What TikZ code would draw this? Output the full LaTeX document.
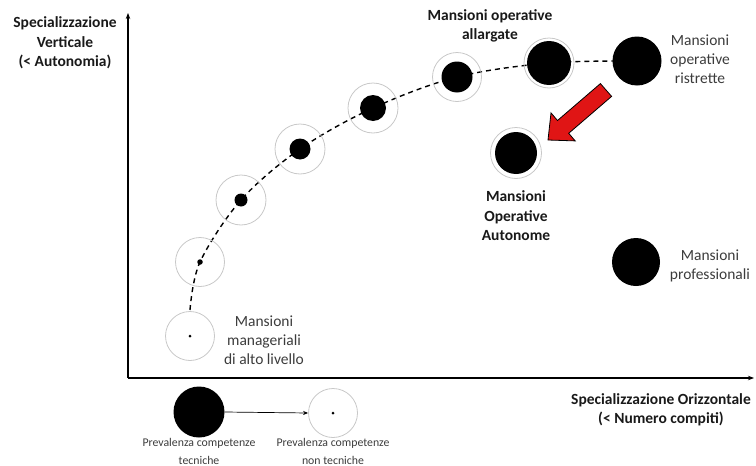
\documentclass[tikz,border=0pt]{standalone}
\usepackage{fontspec}
\setmainfont{Carlito}
\usetikzlibrary{arrows.meta}
\definecolor{ringgray}{HTML}{C8C8C8}
\definecolor{txt}{HTML}{3C3C3C}
\definecolor{arrowred}{HTML}{E01515}
\begin{document}
\begin{tikzpicture}[x=1pt,y=-1pt,
  ring/.style={circle,draw=ringgray,line width=0.8pt,minimum size=#1,inner sep=0pt},
  blob/.style={circle,fill=black,minimum size=#1,inner sep=0pt},
  lbl/.style={align=center,text=txt,font=\fontsize{15.5}{19}\selectfont},
  blbl/.style={align=center,text=black!90,font=\bfseries\fontsize{15.5}{19.5}\selectfont},
  leg/.style={align=center,text=txt,font=\fontsize{11.8}{18}\selectfont},
  axisline/.style={line width=1.2pt,-{Stealth[length=6pt,width=4.5pt]}},
  trail/.style={line width=1.4pt,dash pattern=on 5pt off 4pt}]
\useasboundingbox (0,0) rectangle (756,466);

% axes
\coordinate (o) at (128,378);
\coordinate (ytop) at (128,13);
\coordinate (xend) at (754,378);
\draw[axisline] (o) -- (ytop);
\draw[axisline] (o) -- (xend);

% centres of the job profiles
\coordinate (c1) at (190,336);
\coordinate (c2) at (200,262);
\coordinate (c3) at (241,200);
\coordinate (c4) at (300,149);
\coordinate (c5) at (373,108);
\coordinate (c6) at (457,77);
\coordinate (c7) at (549,63);
\coordinate (c8) at (637,61);
\coordinate (c9) at (516,153);
\coordinate (c10) at (636,262);
\coordinate (start) at (190,310);

% dashed trajectory
\draw[trail] plot[smooth,tension=0.55] coordinates {(start) (c2) (c3) (c4) (c5) (c6) (c7) (c8)};

% job profiles
\node[ring=49pt] (r1) at (c1) {};
\node[blob=3pt] (j1) at (c1) {};
\node[ring=49pt] (r2) at (c2) {};
\node[blob=5.5pt] (j2) at (c2) {};
\node[ring=50pt] (r3) at (c3) {};
\node[blob=13pt] (j3) at (c3) {};
\node[ring=50pt] (r4) at (c4) {};
\node[blob=21pt] (j4) at (c4) {};
\node[ring=50pt] (r5) at (c5) {};
\node[blob=26pt] (j5) at (c5) {};
\node[ring=49pt] (r6) at (c6) {};
\node[blob=31pt] (j6) at (c6) {};
\node[ring=50pt] (r7) at (c7) {};
\node[blob=44pt] (j7) at (c7) {};
\node[blob=49pt] (j8) at (c8) {};
\node[ring=51pt] (r9) at (c9) {};
\node[blob=42pt] (j9) at (c9) {};
\node[blob=48pt] (j10) at (c10) {};

% red arrow
\coordinate (a1) at (548,140);
\coordinate (a2) at (575.2,140.9);
\coordinate (a3) at (568.7,133.3);
\coordinate (a4) at (611.6,96.4);
\coordinate (a5) at (600.4,83.6);
\coordinate (a6) at (557.5,120.5);
\coordinate (a7) at (551.0,112.9);
\draw[fill=arrowred,draw=black,line width=0.8pt,line join=miter]
  (a1) -- (a2) -- (a3) -- (a4) -- (a5) -- (a6) -- (a7) -- cycle;

% labels
\node[blbl] (ylab) at (65,43) {Specializzazione\\Verticale\\(< Autonomia)};
\node[blbl] (xlab) at (661,410) {Specializzazione Orizzontale\\(< Numero compiti)};
\node[blbl] (lallarg) at (490,26) {Mansioni operative\\allargate};
\node[lbl] (lristr) at (700,59) {Mansioni\\operative\\ristrette};
\node[blbl] (lauton) at (516,216) {Mansioni\\Operative\\Autonome};
\node[lbl] (lprof) at (710,266) {Mansioni\\professionali};
\node[lbl] (lmanag) at (264,340) {Mansioni\\manageriali\\di alto livello};

% legend
\node[blob=51pt] (lt) at (199,412) {};
\node[ring=49pt] (ln) at (333,413) {};
\node[blob=3pt] (lnd) at (ln) {};
\draw[line width=0.7pt,-{Stealth[length=5pt,width=4pt]}] (lt.east) -- (ln.west);
\node[leg] (tlt) at (199,451) {Prevalenza competenze\\tecniche};
\node[leg] (tln) at (333,451) {Prevalenza competenze\\non tecniche};
\end{tikzpicture}
\end{document}
